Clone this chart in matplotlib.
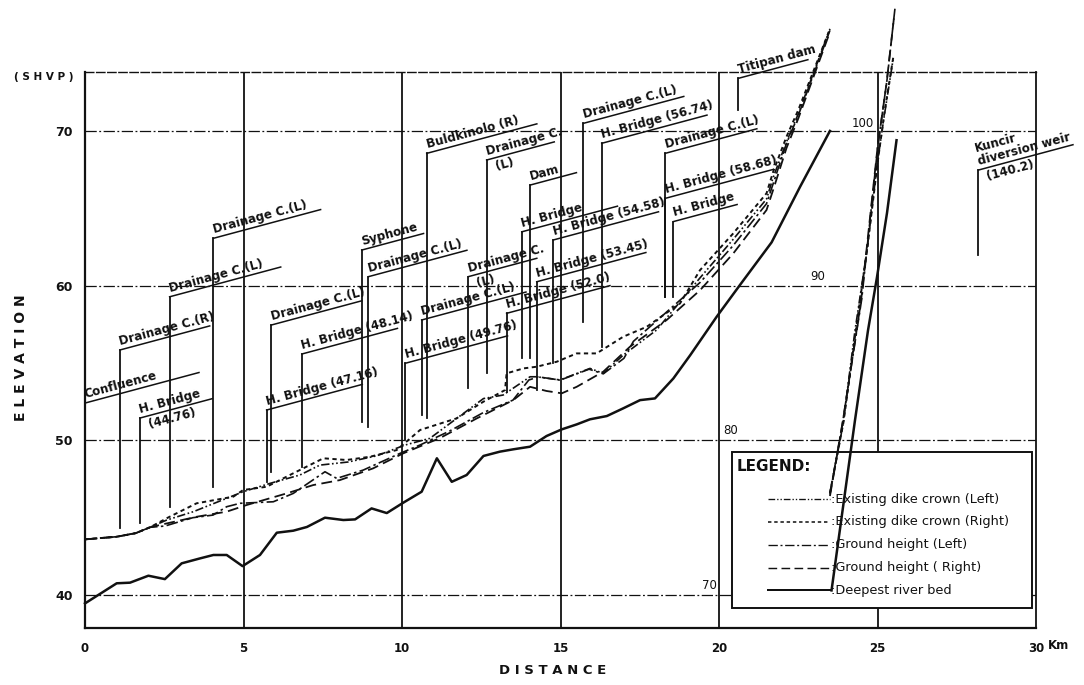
import numpy as np
import matplotlib
matplotlib.use("Agg")
import matplotlib.pyplot as plt
from matplotlib.patches import Rectangle
from matplotlib.lines import Line2D

# ---------------- longitudinal profile data (km, elevation m) ----------------
bed_km = [0.0, 1.0, 1.42, 2.0, 2.52, 3.05, 3.63, 4.05, 4.47, 4.97, 5.52, 6.05, 6.57, 7.0, 7.57,
          8.15, 8.52, 9.04, 9.52, 10.04, 10.62, 11.1, 11.57, 12.04, 12.57, 13.09, 13.51, 14.04,
          14.56, 15.04, 15.51, 15.93, 16.46, 16.98, 17.51, 17.98, 18.56, 19.09, 19.93, 20.66,
          21.66, 22.56, 23.5]
bed_el = [39.46, 40.76, 40.8, 41.25, 41.03, 42.05, 42.37, 42.59, 42.59, 41.87, 42.59, 44.03, 44.16,
          44.4, 45.0, 44.85, 44.89, 45.6, 45.3, 45.97, 46.68, 48.84, 47.32, 47.76, 48.99, 49.27,
          49.42, 49.59, 50.28, 50.71, 51.03, 51.36, 51.57, 52.07, 52.6, 52.71, 54.0, 55.5, 58.0,
          60.04, 62.8, 66.4, 70.0]

dike_right_km = [0.0, 1.0, 1.6, 2.05, 2.63, 3.52, 4.68, 4.99, 5.73, 6.57, 7.52, 8.25, 8.99, 9.83,
                 10.57, 11.72, 12.57, 13.25, 13.3, 13.83, 14.25, 14.88, 15.51, 16.14, 16.98, 17.72,
                 18.77, 19.4, 20.45, 21.5, 21.71, 22.13, 22.5, 23.5]
dike_right_el = [43.6, 43.77, 44.0, 44.38, 45.02, 45.93, 46.36, 46.79, 47.0, 47.87, 48.84, 48.73,
                 48.94, 49.37, 50.67, 51.42, 52.5, 53.25, 54.33, 54.65, 54.76, 55.08, 55.62, 55.62,
                 56.7, 57.34, 58.85, 61.0, 63.38, 65.97, 67.37, 69.63, 71.35, 76.6]

dike_left_km = [0.0, 1.0, 1.6, 2.05, 2.58, 3.42, 4.99, 5.84, 6.78, 7.41, 8.3, 9.2, 10.1, 10.88,
                12.57, 13.19, 14.04, 14.25, 14.98, 15.93, 16.35, 16.98, 18.03, 19.4, 20.45, 21.5,
                21.71, 22.13, 22.5, 23.5]
dike_left_el = [43.6, 43.77, 44.0, 44.38, 44.85, 45.39, 46.68, 47.22, 47.76, 48.4, 48.6, 49.0, 49.7,
                50.13, 52.7, 52.93, 54.11, 54.11, 53.9, 54.65, 54.33, 55.51, 57.13, 60.5, 63.0,
                65.6, 67.0, 69.3, 71.1, 76.6]

ground_left_km = [0.0, 1.0, 1.6, 2.05, 2.52, 3.4, 4.04, 4.47, 4.89, 5.94, 6.57, 7.57, 7.94, 8.78,
                  9.94, 10.57, 11.5, 12.57, 13.5, 14.0, 14.3, 15.0, 15.9, 16.35, 17.0, 17.3, 18.35,
                  19.4, 20.45, 21.5, 21.71, 22.13, 22.5, 23.5]
ground_left_el = [43.6, 43.77, 44.0, 44.38, 44.46, 45.0, 45.17, 45.71, 45.93, 46.03, 46.57, 47.97,
                  47.54, 48.08, 49.16, 49.7, 50.6, 51.8, 52.6, 53.9, 54.1, 53.9, 54.6, 54.3, 55.3,
                  56.4, 58.3, 60.2, 62.6, 65.3, 66.6, 69.2, 71.0, 76.5]

ground_right_km = [0.0, 1.0, 1.6, 2.05, 2.58, 3.52, 4.47, 5.1, 6.36, 7.2, 8.04, 9.09, 10.04, 11.2,
                   12.36, 13.51, 14.04, 14.56, 15.04, 15.51, 16.35, 17.19, 18.35, 19.4, 20.45, 21.5,
                   21.71, 22.13, 22.5, 23.5]
ground_right_el = [43.6, 43.77, 44.0, 44.38, 44.63, 45.06, 45.39, 45.82, 46.57, 47.11, 47.43, 48.19,
                   49.16, 50.15, 51.42, 52.6, 53.46, 53.19, 53.04, 53.46, 54.44, 56.05, 57.78, 59.7,
                   62.08, 64.89, 66.2, 68.9, 70.8, 76.4]

# upstream reach, read on the right-hand scale (70-100 m)
UPPER_SHIFT = 30
bed_up_km = [23.55, 24.29, 24.7, 24.98, 25.3, 25.6]
bed_up_el = [70.3, 81.3, 87.1, 90.5, 94.7, 99.4]
dike_left_up_km = [23.5, 23.91, 24.29, 24.67, 24.98, 25.2, 25.49]
dike_left_up_el = [76.6, 81.0, 87.1, 92.3, 97.7, 100.8, 104.6]
dike_right_up_km = [23.5, 23.93, 24.31, 24.69, 25.0, 25.22, 25.5]
dike_right_up_el = [76.6, 81.2, 87.0, 92.6, 97.9, 101.2, 104.8]
ground_left_up_km = [23.5, 23.91, 24.5, 25.02, 25.3, 25.55]
ground_left_up_el = [76.5, 81.3, 89.1, 99.2, 103.3, 107.9]
ground_right_up_km = [23.5, 23.89, 24.48, 25.0, 25.28, 25.53]
ground_right_up_el = [76.4, 81.0, 89.0, 98.9, 103.0, 107.5]

# ---------------- structures along the river ----------------
struct_name = ["Confluence", "Drainage C.(R)", "H. Bridge", "Drainage C.(L)", "Drainage C.(L)",
               "H. Bridge (47.16)", "Drainage C.(L)", "H. Bridge (48.14)", "Syphone",
               "Drainage C.(L)", "H. Bridge (49.76)", "Drainage C.(L)", "Buldkinolo (R)",
               "Drainage C.", "Drainage C.", "H. Bridge (52.0)", "H. Bridge", "Dam",
               "H. Bridge (53.45)", "H. Bridge (54.58)", "Drainage C.(L)", "H. Bridge (56.74)",
               "Drainage C.(L)", "H. Bridge (58.68)", "H. Bridge", "Titipan dam",
               "Kuncir\ndiversion weir"]
struct_sub = ["", "", "(44.76)", "", "", "", "", "", "", "", "", "", "", "(L)", "(L)", "", "", "",
              "", "", "", "", "", "", "", "", "(140.2)"]
struct_km = [0.0, 1.10, 1.73, 2.67, 4.05, 5.73, 5.87, 6.84, 8.73, 8.94, 10.10, 10.62, 10.78,
             12.09, 12.67, 13.30, 13.78, 14.04, 14.25, 14.77, 15.72, 16.30, 18.30, 18.30, 18.56,
             20.61, 28.18]
struct_el = [52.41, 44.33, 44.65, 45.71, 47.0, 47.32, 47.97, 48.29, 51.2, 50.88, 50.02, 51.64,
             51.44, 53.36, 54.33, 53.14, 55.3, 55.3, 53.25, 54.98, 57.67, 56.05, 59.28, 59.28,
             59.28, 71.35, 61.98]
# label corner heights and leader lengths (px)
label_el = [52.41, 55.84, 51.44, 59.28, 63.06, 51.96, 57.45, 55.58, 62.3, 60.58, 54.98, 57.78,
            68.55, 60.58, 68.12, 58.21, 63.48, 66.5, 60.25, 62.95, 70.49, 69.2, 68.55, 65.64,
            64.14, 73.4, 67.47]
label_len = [118, 93, 75, 115, 111, 99, 94, 99, 64, 102, 106, 108, 114, 71, 70, 107, 99, 48, 113,
             109, 104, 109, 95, 112, 66, 72, 98]

legend_labels = ["Existing dike crown (Left)", "Existing dike crown (Right)",
                 "Ground height (Left)", "Ground height ( Right)", "Deepest river bed"]

x_ticks = [0, 5, 10, 15, 20, 25, 30]
y_ticks = [40, 50, 60, 70]
right_scale = [70, 80, 90, 100]

INK = "#111111"
STYLE = {
    "dike_left": dict(ls=(0, (5, 1.5, 1, 1.5, 1, 1.5)), lw=1.2),
    "dike_right": dict(ls=(0, (2.2, 1.8)), lw=1.4),
    "ground_left": dict(ls=(0, (7, 2, 1.5, 2)), lw=1.2),
    "ground_right": dict(ls=(0, (6, 3)), lw=1.3),
    "bed": dict(ls="-", lw=1.8),
}

plt.rcParams["font.family"] = ["DejaVu Sans"]

fig = plt.figure(figsize=(10.84, 6.85), dpi=100)
W, H = 1084, 685
ax = fig.add_axes([85 / W, 1 - 628 / H, (1036 - 85) / W, (628 - 72) / H])
ax.set_xlim(0, 30)
ax.set_ylim(37.87, 73.81)
ax.set_facecolor("white")

# grid
for e in y_ticks:
    ax.axhline(e, color=INK, lw=0.9, ls=(0, (9, 2, 1.5, 2)), zorder=1)
for k in [5, 10, 15, 20, 25]:
    ax.axvline(k, color=INK, lw=1.3, zorder=1)

# frame
for side in ["left", "bottom"]:
    ax.spines[side].set_linewidth(1.6)
ax.spines["right"].set_linewidth(1.3)
ax.spines["top"].set_linewidth(1.0)
ax.spines["top"].set_linestyle((0, (6, 2)))
for s in ax.spines.values():
    s.set_color(INK)

ax.set_xticks(x_ticks)
ax.set_xticklabels([str(v) for v in x_ticks], fontsize=8.5, fontweight="bold")
ax.set_yticks(y_ticks)
ax.set_yticklabels([str(v) for v in y_ticks], fontsize=9, fontweight="bold")
ax.tick_params(axis="x", length=0, pad=10, colors=INK)
ax.tick_params(axis="y", length=0, pad=9, colors=INK)
ax.text(30.38, 36.77, "Km", fontsize=8.5, fontweight="bold", ha="left", va="center",
        color=INK, clip_on=False)

# right-hand scale labels
ax.text(20.12, 50 + 0.2, str(right_scale[1]), fontsize=8.5, ha="left", va="bottom", color=INK)
ax.text(19.92, 40 + 0.2, str(right_scale[0]), fontsize=8.5, ha="right", va="bottom", color=INK)
ax.text(23.12, 60 + 0.2, str(right_scale[2]), fontsize=8.5, ha="center", va="bottom", color=INK)
ax.text(24.9, 70 + 0.05, str(right_scale[3]), fontsize=8.5, ha="right", va="bottom", color=INK)

# legend box (white, drawn under the profiles)
lx0, lx1 = 20.4, 29.86
ly0, ly1 = 39.14, 49.26
ax.add_patch(Rectangle((lx0, ly0), lx1 - lx0, ly1 - ly0, facecolor="white", edgecolor=INK,
                       lw=1.4, zorder=2))

# profiles
series = [
    (dike_left_km, dike_left_el, dike_left_up_km, dike_left_up_el, "dike_left"),
    (dike_right_km, dike_right_el, dike_right_up_km, dike_right_up_el, "dike_right"),
    (ground_left_km, ground_left_el, ground_left_up_km, ground_left_up_el, "ground_left"),
    (ground_right_km, ground_right_el, ground_right_up_km, ground_right_up_el, "ground_right"),
    (bed_km, bed_el, bed_up_km, bed_up_el, "bed"),
]
for km, el, ukm, uel, key in series:
    st = STYLE[key]
    ax.plot(km, el, color=INK, ls=st["ls"], lw=st["lw"], zorder=4, clip_on=False)
    ax.plot(ukm, np.array(uel) - UPPER_SHIFT, color=INK, ls=st["ls"], lw=st["lw"], zorder=4,
            clip_on=False)

# structure labels with leaders
ANG = 15.0
ang = np.deg2rad(ANG)
u = np.array([np.cos(ang), np.sin(ang)])
n = np.array([-np.sin(ang), np.cos(ang)])
to_px = ax.transData.transform
to_data = ax.transData.inverted().transform
for name, sub, km, base, top, L in zip(struct_name, struct_sub, struct_km, struct_el,
                                       label_el, label_len):
    if top > base:
        ax.plot([km, km], [base, top], color=INK, lw=1.3, zorder=3, clip_on=False)
    p0 = to_px((km, top))
    x1, y1 = to_data(p0 + L * u)
    ax.plot([km, x1], [top, y1], color=INK, lw=1.1, zorder=3, clip_on=False)
    off = 1.5 * u + 1.2 * n
    ax.annotate(name, xy=(km, top), xytext=tuple(off), textcoords="offset points",
                rotation=ANG, rotation_mode="anchor", ha="left", va="bottom",
                fontsize=8.6, fontweight="bold", color=INK, zorder=5, linespacing=1.0,
                annotation_clip=False)
    if sub:
        offb = 5 * u - 1.5 * n
        ax.annotate(sub, xy=(km, top), xytext=tuple(offb), textcoords="offset points",
                    rotation=ANG, rotation_mode="anchor", ha="left", va="top",
                    fontsize=8.6, fontweight="bold", color=INK, zorder=5,
                    annotation_clip=False)

# legend content
ax.text(20.55, 48.3, "LEGEND:", fontsize=11, fontweight="bold", ha="left", va="center",
        color=INK, zorder=5)
row_el = [46.2, 44.75, 43.25, 41.75, 40.3]
keys = ["dike_left", "dike_right", "ground_left", "ground_right", "bed"]
for key, lab, e in zip(keys, legend_labels, row_el):
    st = STYLE[key]
    ax.add_line(Line2D([21.55, 23.5], [e, e], color=INK, ls=st["ls"], lw=st["lw"] * 0.8,
                       zorder=5))
    ax.text(23.52, e, ":" + lab, fontsize=9.3, ha="left", va="center", color=INK, zorder=5)

# axis captions
fig.text(21 / W, 1 - 358 / H, "E L E V A T I O N", rotation=90, fontsize=10, fontweight="bold",
         ha="center", va="center", color=INK)
fig.text(553 / W, 1 - 670 / H, "D I S T A N C E", fontsize=9.5, fontweight="bold",
         ha="center", va="center", color=INK)
fig.text(44 / W, 1 - 77 / H, "( S H V P )", fontsize=7.5, fontweight="bold",
         ha="center", va="center", color=INK)

fig.savefig("out.png", dpi=100, facecolor="white")
